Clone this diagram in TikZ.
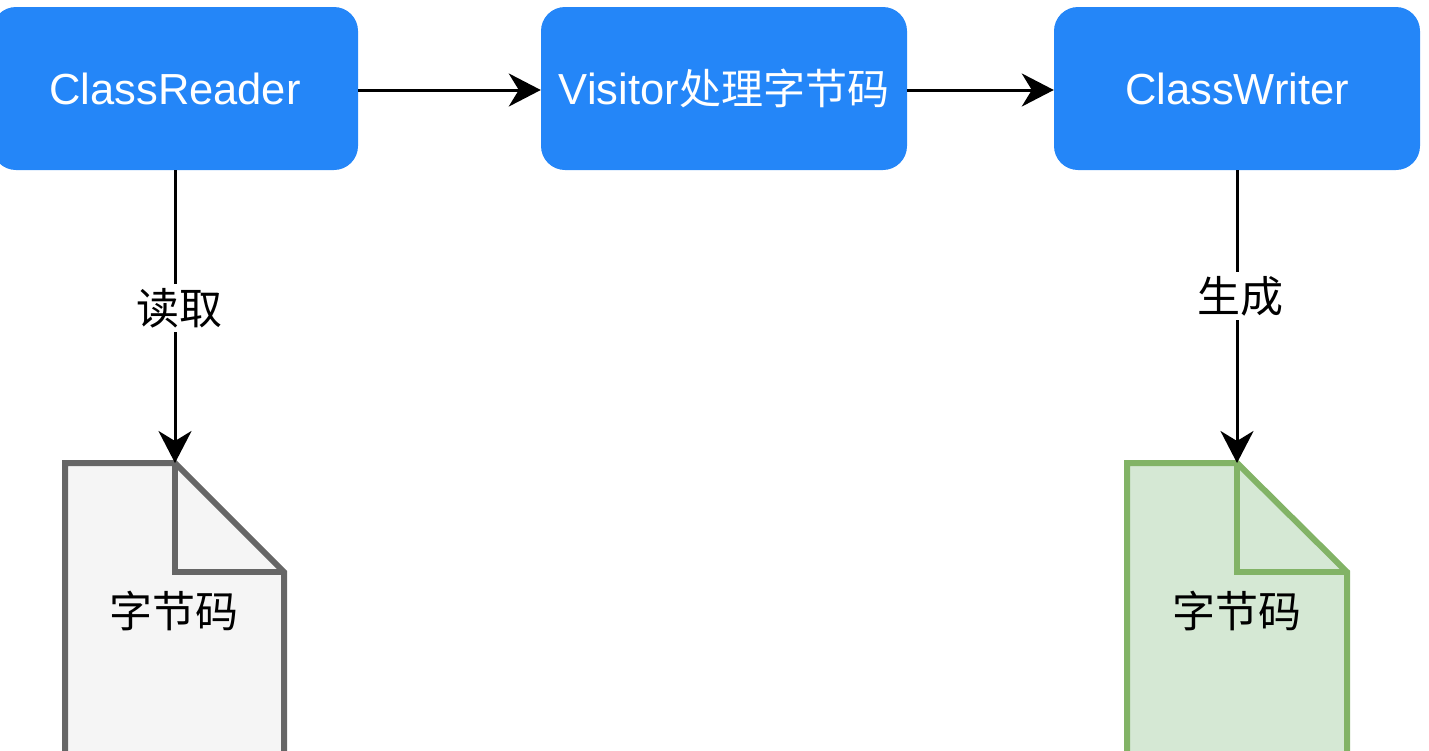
\documentclass[tikz,border=0pt]{standalone}
\usepackage{fontspec}
\setmainfont{Liberation Sans}
\newfontfamily\cjk{Noto Sans CJK SC}
\usetikzlibrary{arrows.meta}
\definecolor{boxblue}{HTML}{2486F8}
\definecolor{graystroke}{HTML}{666666}
\definecolor{grayfill}{HTML}{F5F5F5}
\definecolor{greenstroke}{HTML}{82B366}
\definecolor{greenfill}{HTML}{D5E8D4}
\tikzset{
  procbox/.style={fill=boxblue, rounded corners=24pt, minimum width=366pt, minimum height=163pt, inner sep=0pt, text=white, font=\fontsize{43.5}{50}\selectfont},
  conn/.style={line width=3pt, -{Stealth[length=32pt, width=33pt, inset=10pt]}},
  lbl/.style={fill=white, inner sep=4pt, font=\cjk\fontsize{43}{50}\selectfont},
  doctext/.style={font=\cjk\fontsize{43}{50}\selectfont},
}
\begin{document}
\begin{tikzpicture}[x=1pt, y=-1pt]
\useasboundingbox (0,0) rectangle (1429,750);
\clip (0,0) rectangle (1429,750);
\node[procbox] (reader) at (175,88.5) {ClassReader};
\node[procbox] (visitor) at (724,88.5) {Visitor{\cjk\fontsize{42}{50}\selectfont 处理字节码}};
\node[procbox] (writer) at (1237,88.5) {ClassWriter};
% documents
\filldraw[draw=graystroke, fill=grayfill, line width=6pt, line join=miter]
  (65,463) -- (175,463) -- (284,572) -- (284,800) -- (65,800) -- cycle;
\draw[graystroke, line width=6pt] (175,463) -- (175,572) -- (284,572);
\coordinate (doc1top) at (175,463);
\node[doctext] (doc1) at (174,611) {字节码};
\filldraw[draw=greenstroke, fill=greenfill, line width=6pt, line join=miter]
  (1127,463) -- (1237,463) -- (1347,572) -- (1347,800) -- (1127,800) -- cycle;
\draw[greenstroke, line width=6pt] (1237,463) -- (1237,572) -- (1347,572);
\coordinate (doc2top) at (1237,463);
\node[doctext] (doc2) at (1237,611) {字节码};
% connectors
\draw[conn] (reader.east |- 0,90) -- (visitor.west |- 0,90);
\draw[conn] (visitor.east |- 0,90) -- (writer.west |- 0,90);
\draw[conn] (reader.south) -- node[lbl, pos=0.47, xshift=4pt] (l1) {读取} (doc1top);
\draw[conn] (writer.south) -- node[lbl, pos=0.43, xshift=3pt] (l2) {生成} (doc2top);
\end{tikzpicture}
\end{document}
